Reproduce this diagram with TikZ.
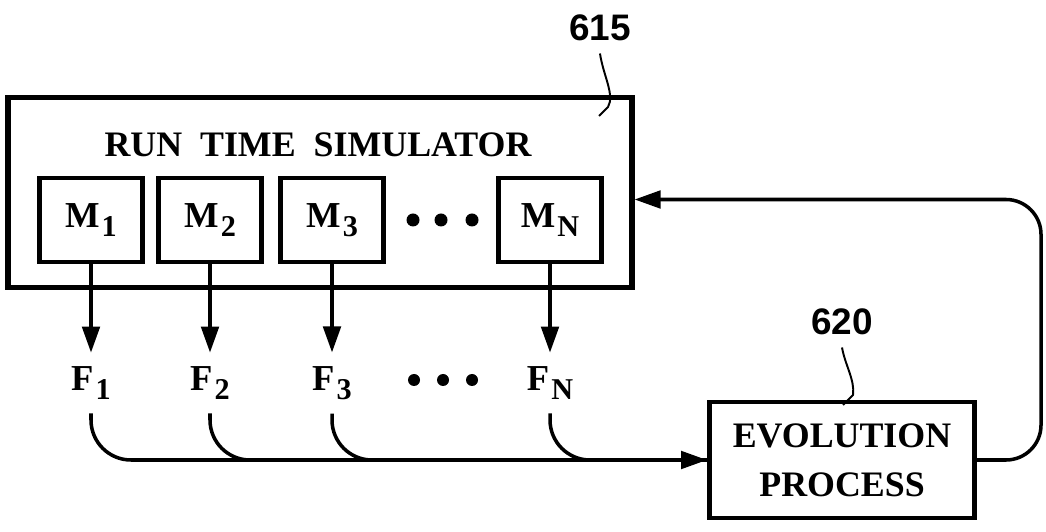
\documentclass[tikz,border=0pt]{standalone}
\usepackage{fontspec}
\setmainfont{Liberation Serif}
\newfontfamily\refnumfont{Liberation Sans}
\usetikzlibrary{arrows.meta}
\newcommand\idx[1]{\kern0.6pt\raisebox{-0.5ex}{\fontsize{8.6}{9}\selectfont#1}}

\begin{document}
\begin{tikzpicture}[
    outer/.style={rectangle, draw=black, line width=1.45pt, minimum width=6.24cm, minimum height=1.90cm},
    module/.style={rectangle, draw=black, line width=1.4pt, minimum width=1.03cm, minimum height=0.84cm, font=\fontsize{10.4}{12}\selectfont\bfseries},
    fitness/.style={inner sep=1pt, font=\fontsize{10.4}{12}\selectfont\bfseries},
    process/.style={rectangle, draw=black, line width=1.4pt, minimum width=2.65cm, minimum height=1.16cm, align=center, font=\fontsize{10.2}{14}\selectfont\bfseries},
    refnum/.style={font=\refnumfont\fontsize{10.5}{12}\selectfont\bfseries},
    arrow/.style={-{Triangle[length=2.6mm, width=1.75mm]}, line width=1pt},
    flow/.style={line width=1pt, rounded corners=4mm},
    leader/.style={line width=0.55pt},
]
\useasboundingbox (0,0) rectangle (10.46,-5.32);

% Run time simulator 615
\node[outer] (sim) at (3.20,-1.925) {};
\node[font=\fontsize{10.2}{12}\selectfont\bfseries] (title) at (3.18,-1.45) {RUN\ \ TIME\ \ SIMULATOR};
\node[refnum] (l615) at (6.00,-0.28) {615};
\draw[leader] (l615.south) .. controls (6.03,-0.75) and (6.15,-0.95) .. (6.08,-1.07) -- (5.99,-1.16);

% Models
\node[module] (m1) at (0.91,-2.20) {M\idx{1}};
\node[module] (m2) at (2.10,-2.20) {M\idx{2}};
\node[module] (m3) at (3.32,-2.20) {M\idx{3}};
\node[module] (mn) at (5.50,-2.20) {M\idx{N}};
\foreach \x in {4.13,4.41,4.72}
    \fill (\x,-2.20) circle (0.65mm);

% Fitness values
\coordinate (frow) at (0,-3.83);
\node[fitness] (f1) at (m1 |- frow) {F\idx{1}};
\node[fitness] (f2) at (m2 |- frow) {F\idx{2}};
\node[fitness] (f3) at (m3 |- frow) {F\idx{3}};
\node[fitness] (fn) at (mn |- frow) {F\idx{N}};
\foreach \x in {4.14,4.43,4.72}
    \fill (\x,-3.80) circle (0.6mm);

% Evolution process 620
\node[process] (evo) at (8.42,-4.60) {EVOLUTION\\PROCESS};
\node[refnum] (l620) at (8.42,-3.22) {620};
\draw[leader] (l620.south) .. controls (8.45,-3.65) and (8.55,-3.80) .. (8.53,-3.95) -- (8.43,-4.05);

% Model outputs
\foreach \i in {1,2,3,n}
    \draw[arrow, shorten >=1mm] (m\i.south) -- (f\i.north);

% Fitness to evolution
\draw[flow, arrow] ([yshift=-1mm]f1.south) |- (evo.west);
\foreach \i in {2,3,n}
    \draw[flow] ([yshift=-1mm]f\i.south) |- (evo.west);

% Feedback loop
\coordinate (back) at (10.41,-3.30);
\draw[arrow, rounded corners=3.5mm] (evo.east) -| (back) |- ([yshift=-0.7mm]sim.east);
\end{tikzpicture}
\end{document}
